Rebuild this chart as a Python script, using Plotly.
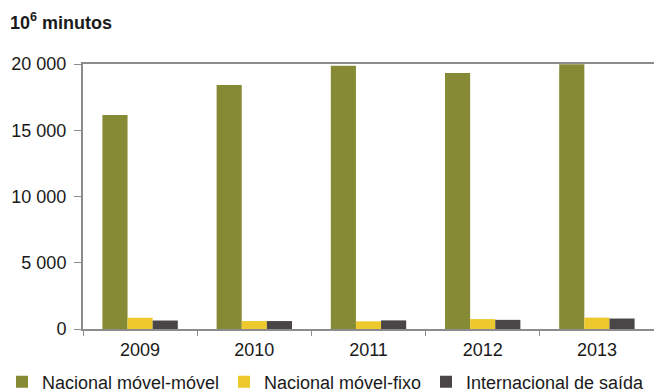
import plotly.graph_objects as go

years = ["2009", "2010", "2011", "2012", "2013"]
movel_movel = [16150, 18420, 19870, 19320, 19980]
movel_fixo = [850, 600, 580, 750, 860]
internacional = [640, 600, 650, 690, 790]
series_names = ["Nacional móvel-móvel", "Nacional móvel-fixo", "Internacional de saída"]
colors = ["#878A35", "#EDC92D", "#4A4647"]
y_ticks = [0, 5000, 10000, 15000, 20000]
y_tick_labels = ["0", "5 000", "10 000", "15 000", "20 000"]

FONT = "Liberation Sans, Arial, sans-serif"
TXT = "#1a1a1a"
L, T = 83, 64
PLOT_W = 571.0
PLOT_H = 265.0

fig = go.Figure()
legend_px = [2, 224, 426]
for i, (name, vals) in enumerate(zip(series_names, [movel_movel, movel_fixo, internacional])):
    lg = "legend" if i == 0 else f"legend{i+1}"
    fig.add_trace(go.Bar(x=years, y=vals, name=name, marker_color=colors[i],
                         marker_line_width=0, legend=lg, showlegend=True))

legend_common = dict(orientation="h", xref="paper", yref="paper",
                     yanchor="middle", xanchor="left", y=-(382 - 329) / PLOT_H,
                     font=dict(family=FONT, size=18, color=TXT),
                     bgcolor="rgba(0,0,0,0)", itemwidth=30, tracegroupgap=0,
                     borderwidth=0, visible=True)

fig.update_layout(
    width=654, height=392,
    margin=dict(l=L, r=0, t=T, b=63, pad=0, autoexpand=False),
    paper_bgcolor="white", plot_bgcolor="white",
    showlegend=True,
    barmode="group", bargap=0.34, bargroupgap=0,
    font=dict(family=FONT, size=18, color=TXT),
    legend=dict(x=(legend_px[0] - L) / PLOT_W, **legend_common),
    legend2=dict(x=(legend_px[1] - L) / PLOT_W, **legend_common),
    legend3=dict(x=(legend_px[2] - L) / PLOT_W, **legend_common),
    xaxis=dict(type="category", showline=True, linecolor="#8C8C8C", linewidth=2,
               mirror=True, ticks="outside", tickson="boundaries", ticklen=5,
               tickcolor="#8C8C8C", tickwidth=1, showgrid=False,
               ticklabelstandoff=3,
               tickfont=dict(family=FONT, size=18, color=TXT)),
    yaxis=dict(range=[0, 20000], tickvals=y_ticks, ticktext=y_tick_labels,
               showline=True, linecolor="#8C8C8C", linewidth=2,
               ticks="outside", ticklen=7, tickcolor="#8C8C8C", tickwidth=1,
               showgrid=False, zeroline=False, ticklabelstandoff=4,
               tickfont=dict(family=FONT, size=18, color=TXT)),
    annotations=[dict(text="<b>10<sup>6</sup> minutos</b>", xref="paper", yref="paper",
                      x=(8 - L) / PLOT_W, y=1 + (T - 21) / PLOT_H,
                      xanchor="left", yanchor="middle",
                      showarrow=False, font=dict(family=FONT, size=18, color=TXT))],
)

fig.write_html("out.html", config={"displayModeBar": False},
               post_script="document.body.style.margin='0';document.body.style.overflow='hidden';")
